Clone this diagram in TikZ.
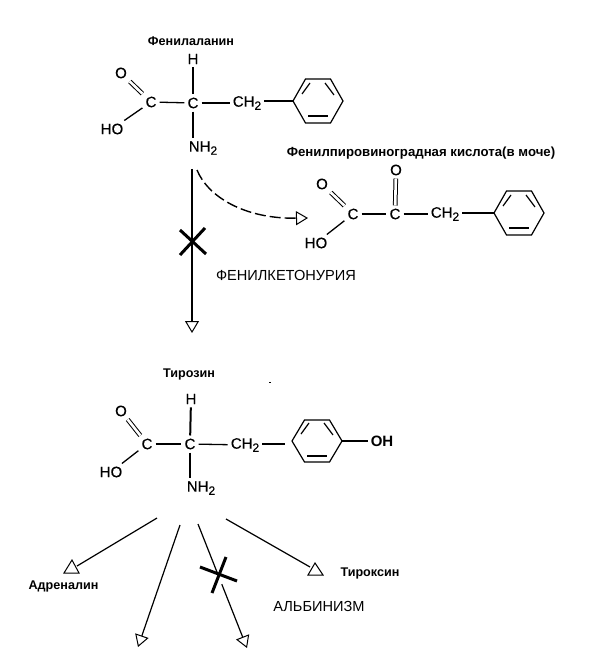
\documentclass[tikz,border=0pt]{standalone}
\usepackage{fontspec}
\setmainfont{Liberation Sans}
\newfontfamily\atomfont[FakeBold=0.35]{Liberation Sans}
\usetikzlibrary{arrows.meta}
\newcommand{\subtwo}{\raisebox{-0.4ex}{\fontsize{12}{12}\selectfont 2}}
\newcommand{\ringat}[5]{% name, cx, cy, half-width, half-height
  \coordinate (#1) at (#2,#3);
  \coordinate (#1L) at (#2-#4,#3);
  \coordinate (#1R) at (#2+#4,#3);
  \draw[ringline] (#2-#4,#3) -- (#2-#4*0.5,#3-#5) -- (#2+#4*0.5,#3-#5) -- (#2+#4,#3)
    -- (#2+#4*0.5,#3+#5) -- (#2-#4*0.5,#3+#5) -- cycle;
  \draw[ringline] (#2-16,#3-7) -- (#2-8,#3-18);
  \draw[ringline] (#2+7,#3-18) -- (#2+16,#3-6);
  \draw[ringline] (#2-10,#3+15) -- (#2+10,#3+15);
}
\tikzset{
  atom/.style={font=\atomfont\fontsize{15}{15}\selectfont,inner sep=3pt,text=black},
  title/.style={font=\fontsize{12.6}{13}\selectfont\bfseries,inner sep=0pt},
  disease/.style={font=\fontsize{14.6}{15}\selectfont,inner sep=0pt},
  bond/.style={line width=1.3pt},
  heavy/.style={line width=2pt},
  dbl/.style={double,double distance=2.6pt,line width=1pt},
  ringline/.style={line width=1.2pt,line join=miter},
  plain flow/.style={line width=1.2pt},
  flow/.style={line width=1.2pt,-{Triangle[open,length=12pt,width=14pt,line width=1pt]}},
  tiphead/.style={line width=1pt},
  blocker/.style={line width=3pt},
}
\begin{document}
\begin{tikzpicture}[x=1pt,y=-1pt]
\useasboundingbox (0,0) rectangle (592,652);
% Phenylalanine
\node[title] (t1) at (191,41) {Фенилаланин};
\node[atom] (a1H) at (193,59) {H};
\node[atom] (a1C) at (193,103) {C};
\node[atom] (a1K) at (151,102) {C};
\node[atom] (a1O) at (121,73) {O};
\node[atom] (a1HO) at (112,129) {HO};
\node[atom] (a1CH) at (247,103) {CH\subtwo};
\node[atom] (a1N) at (203,148) {NH\subtwo};
\ringat{r1}{318}{101}{25}{22}
\draw[heavy] (a1H) -- (a1C);
\draw[bond] (a1K) -- (a1C);
\draw[bond] (a1C) -- (a1CH);
\draw[bond] (a1CH.east |- r1L) -- (r1L);
\draw[bond] (a1C.south) -- (a1C.south |- a1N.north);
\draw[dbl] (a1O) -- (a1K);
\draw[bond] (a1HO) -- (a1K);
% Phenylpyruvic acid
\node[title,font=\fontsize{13.2}{14}\selectfont\bfseries] (t2) at (421,153) {Фенилпировиноградная кислота(в моче)};
\node[atom] (a2O) at (322,184) {O};
\node[atom] (a2HO) at (316,243) {HO};
\node[atom] (a2K) at (353,214) {C};
\node[atom] (a2C) at (395,214) {C};
\node[atom] (a2P) at (396,170) {O};
\node[atom] (a2CH) at (445,214) {CH\subtwo};
\ringat{r2}{519}{213}{25}{22}
\draw[heavy] (a2K) -- (a2C);
\draw[bond] (a2C) -- (a2CH);
\draw[bond] (a2CH.east |- r2L) -- (r2L);
\draw[dbl] (a2O) -- (a2K);
\draw[dbl] (a2P) -- (a2C);
\draw[bond] (a2HO) -- (a2K);
% Block
\coordinate (s1) at (192,169);
\coordinate (e1) at (192,333);
\draw[flow,line width=1.1pt] (s1) -- (e1);
\coordinate (x1a) at (180,230); \coordinate (x1b) at (206,254);
\coordinate (x1c) at (180,255); \coordinate (x1d) at (205,228);
\draw[blocker] (x1a) -- (x1b);
\draw[blocker] (x1c) -- (x1d);
\coordinate (s2) at (197,170);
\coordinate (e2) at (308,218);
\draw[flow,line width=1.4pt,dash pattern=on 11pt off 4pt] (s2) .. controls (208,197) and (245,219) .. (e2);
\node[disease] (d1) at (286,275) {ФЕНИЛКЕТОНУРИЯ};
% Tyrosine
\node[title] (t3) at (189,374) {Тирозин};
\fill (269,381.5) rectangle (271,382.5);
\node[atom] (a3H) at (191,399) {H};
\node[atom] (a3C) at (190,444) {C};
\node[atom] (a3K) at (147,444) {C};
\node[atom] (a3O) at (121,411) {O};
\node[atom] (a3HO) at (111,472) {HO};
\node[atom] (a3CH) at (245,445) {CH\subtwo};
\node[atom] (a3N) at (201,488) {NH\subtwo};
\node[atom,font=\fontsize{15}{15}\selectfont\bfseries] (a3OH) at (382,441) {OH};
\ringat{r3}{317}{441}{25}{21}
\draw[heavy] (a3H) -- (a3C);
\draw[bond] (a3K) -- (a3C);
\draw[bond] (a3C) -- (a3CH);
\draw[bond,shorten >=7pt] (a3CH.east |- a3C) -- (a3C -| r3L);
\draw[bond] (r3R) -- (a3OH);
\draw[bond] (a3C.south) -- (a3C.south |- a3N.north);
\draw[dbl] (a3O) -- (a3K);
\draw[bond] (a3HO) -- (a3K);
% Products
\coordinate (sA) at (157,518); \coordinate (eA) at (77,566);
\coordinate (sB) at (180,525); \coordinate (eB) at (138,647);
\coordinate (sC) at (198,524); \coordinate (eC) at (247,648);
\coordinate (sD) at (226,519); \coordinate (eD) at (310,567);
\draw[plain flow] (sA) -- (eA);
\draw[tiphead] (72,560) -- (64,573) -- (79,573) -- cycle;
\draw[flow] (sB) -- (eB);
\draw[flow] (sC) -- (eC);
\draw[plain flow] (sD) -- (eD);
\draw[tiphead] (315,563) -- (308,575) -- (323,575) -- cycle;
\coordinate (x2a) at (200,567); \coordinate (x2b) at (237,581);
\coordinate (x2c) at (226,557); \coordinate (x2d) at (212,593);
\draw[draw=white,line width=6pt] (219,576) -- (222,584);
\draw[blocker] (x2a) -- (x2b);
\draw[blocker] (x2c) -- (x2d);
\node[title] (t4) at (63.5,586) {Адреналин};
\node[title] (t5) at (370,573) {Тироксин};
\node[disease] (d2) at (319,606) {АЛЬБИНИЗМ};
\end{tikzpicture}
\end{document}
